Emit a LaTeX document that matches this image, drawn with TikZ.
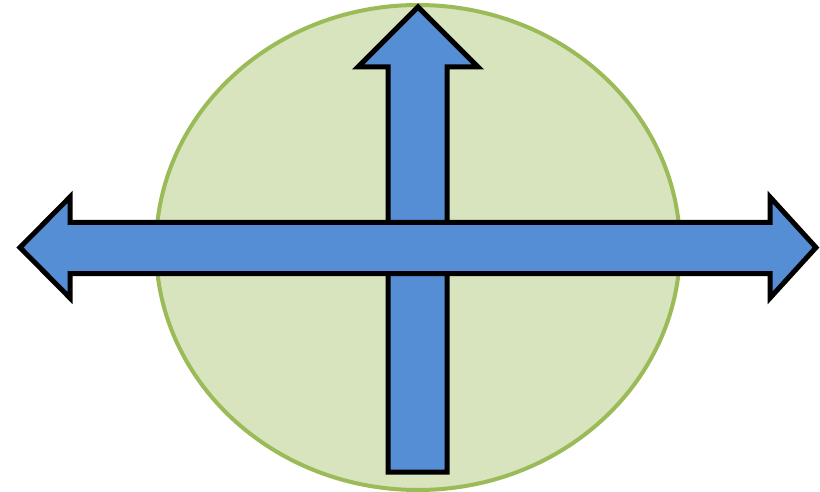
\documentclass[tikz,border=0pt]{standalone}
\usepackage{tikz}
\definecolor{discgreen}{HTML}{D7E4BD}
\definecolor{rimgreen}{HTML}{9BBB59}
\definecolor{arrowblue}{HTML}{558ED5}

\begin{document}
\begin{tikzpicture}[
  x=1pt,y=-1pt,
  disc/.style={draw=rimgreen,fill=discgreen,line width=4pt},
  arrowshape/.style={draw=black,fill=arrowblue,line width=5pt,line join=miter}
]
\useasboundingbox (0,0) rectangle (820,492);
% green ellipse
\draw[disc] (418,247.5) ellipse [x radius=262,y radius=242.5];
% vertical arrow
\draw[arrowshape] (388,472) -- (388,67) -- (358,67) -- (418,7) -- (478,67)
  -- (447,67) -- (447,472) -- cycle;
% horizontal double arrow
\draw[arrowshape] (70,222.5) -- (70,197) -- (20,247.5) -- (70,298) -- (70,273.5)
  -- (770,273.5) -- (770,298) -- (816,247.5) -- (770,197) -- (770,222.5) -- cycle;
\end{tikzpicture}
\end{document}
